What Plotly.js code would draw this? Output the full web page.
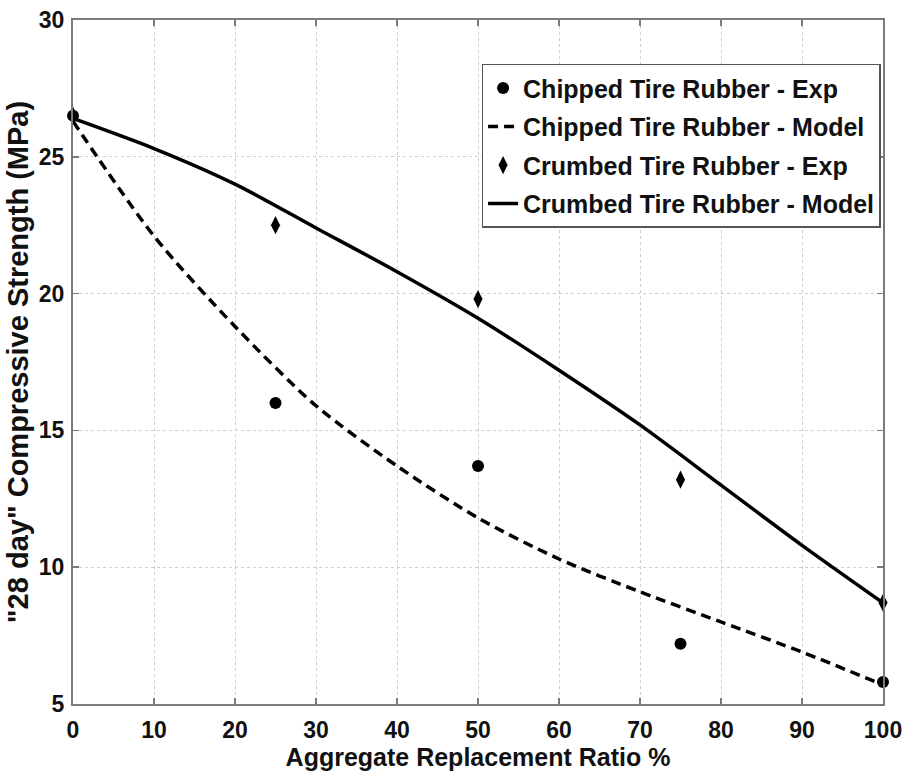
<!DOCTYPE html>
<html>
<head>
<meta charset="utf-8">
<script src="https://cdn.plot.ly/plotly-3.0.1.min.js"></script>
<style>html,body{margin:0;padding:0;background:#fff;}#chart{width:906px;height:777px;}</style>
</head>
<body>
<div id="chart"></div>
<script>
// Experimental points
const expRatio = [0, 25, 50, 75, 100];
const chippedExp = [26.5, 16.0, 13.7, 7.2, 5.8];
const crumbedExp = [26.5, 22.5, 19.8, 13.2, 8.7];

// Model curves
const modelRatio = [0, 10, 20, 30, 40, 50, 60, 70, 80, 90, 100];
const chippedModel = [26.3, 22.1, 18.8, 15.9, 13.7, 11.8, 10.3, 9.1, 8.0, 6.9, 5.7];
const crumbedModel = [26.4, 25.3, 24.0, 22.4, 20.8, 19.1, 17.2, 15.2, 13.0, 10.8, 8.7];

const seriesNames = [
  'Chipped Tire Rubber - Exp',
  'Chipped Tire Rubber - Model',
  'Crumbed Tire Rubber - Exp',
  'Crumbed Tire Rubber - Model'
];
const xTicks = [0, 10, 20, 30, 40, 50, 60, 70, 80, 90, 100];
const yTicks = [5, 10, 15, 20, 25, 30];

const FONT = 'Liberation Sans, Arial, Helvetica, sans-serif';

const traces = [
  {x: expRatio, y: chippedExp, name: seriesNames[0], mode: 'markers', type: 'scatter',
   legendgroup: 'a', cliponaxis: false,
   marker: {symbol: 'circle', size: 12, color: '#000'}},
  {x: modelRatio, y: chippedModel, name: seriesNames[1], mode: 'lines', type: 'scatter',
   legendgroup: 'b', line: {color: '#000', width: 3.5, dash: '10px,6px', shape: 'spline', smoothing: 0.8}},
  {x: expRatio, y: crumbedExp, name: seriesNames[2], mode: 'markers', type: 'scatter',
   legendgroup: 'c', cliponaxis: false,
   marker: {symbol: 'diamond-tall', size: 13, color: '#000'}},
  {x: modelRatio, y: crumbedModel, name: seriesNames[3], mode: 'lines', type: 'scatter',
   legendgroup: 'd', line: {color: '#000', width: 3.5, shape: 'spline', smoothing: 0.8}}
];

function makeAxis(extra) {
  return Object.assign({
    showline: true, mirror: 'ticks', linecolor: '#7a7a7a', linewidth: 2,
    ticks: 'inside', ticklen: 6, tickcolor: '#7a7a7a', tickwidth: 1.5,
    showgrid: true, gridcolor: '#cfcfcf', griddash: 'dot', gridwidth: 1,
    zeroline: false,
    tickfont: {family: FONT, size: 23, color: '#111', weight: 700}
  }, extra);
}

const layout = {
  width: 906, height: 777,
  margin: {l: 73, r: 23, t: 20, b: 73},
  paper_bgcolor: '#fff', plot_bgcolor: '#fff',
  showlegend: true,
  xaxis: makeAxis({
    range: [0, 100], tickvals: xTicks, ticktext: xTicks.map(v => '<b>' + v + '</b>'),
    ticklabelstandoff: 4,
    title: {text: 'Aggregate Replacement Ratio %', standoff: 2,
            font: {family: FONT, size: 25, color: '#111', weight: 700}}
  }),
  yaxis: makeAxis({
    range: [5, 30], tickvals: yTicks, ticktext: yTicks.map(v => '<b>' + v + '</b>'),
    ticklabelstandoff: 2,
    title: {text: '"28 day" Compressive Strength (MPa)', standoff: 2,
            font: {family: FONT, size: 29, color: '#111', weight: 700}}
  }),
  legend: {
    x: 0.997, xanchor: 'right', y: 0.936, yanchor: 'top',
    bgcolor: '#fff', bordercolor: '#555', borderwidth: 1.5,
    font: {family: FONT, size: 25, color: '#111', weight: 700},
    tracegroupgap: 3, traceorder: 'grouped'
  }
};

Plotly.newPlot('chart', traces, layout, {displayModeBar: false, staticPlot: true});
</script>
</body>
</html>
